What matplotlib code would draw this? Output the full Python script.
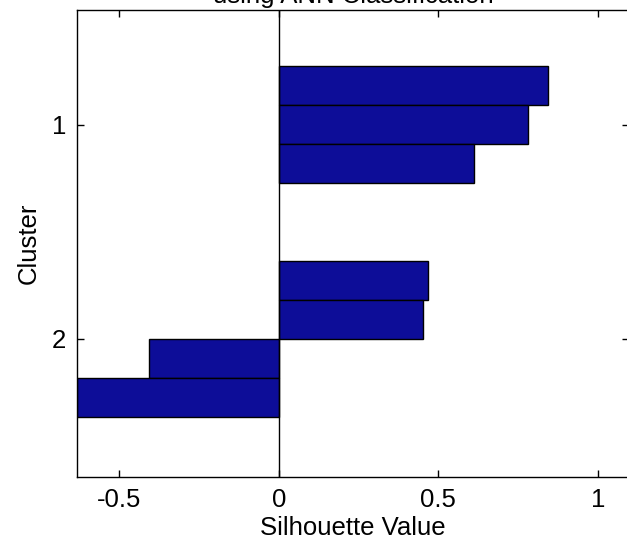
import numpy as np
import matplotlib
matplotlib.use("Agg")
import matplotlib.pyplot as plt

plt.rcParams["font.family"] = ["Liberation Sans", "DejaVu Sans"]

# silhouette values per point, sorted within each cluster
cluster_labels = ["1", "2"]
cluster1_values = [0.843, 0.781, 0.611]
cluster2_values = [0.467, 0.453, -0.408, -0.633]
gap = 2  # empty bar slots between clusters
x_ticks = [-0.5, 0, 0.5, 1]
x_tick_labels = ["-0.5", "0", "0.5", "1"]

FS = 18.5

fig = plt.figure(figsize=(6.27, 5.42), dpi=100)
ax = fig.add_axes([77 / 627, 65 / 542, 552 / 627, 467 / 542])

pos1 = np.arange(1, len(cluster1_values) + 1)
pos2 = np.arange(len(cluster1_values) + gap + 1,
                 len(cluster1_values) + gap + len(cluster2_values) + 1)

bar_color = "#0d0d98"
ax.barh(pos1, cluster1_values, height=1.0, color=bar_color,
        edgecolor="black", linewidth=1.0)
ax.barh(pos2, cluster2_values, height=1.0, color=bar_color,
        edgecolor="black", linewidth=1.0)
ax.axvline(0, color="black", linewidth=1.0, zorder=3)

ax.set_xlim(-0.633, 1.098)
ax.set_ylim(11.05, -0.94)
ax.set_xticks(x_ticks)
ax.set_xticklabels(x_tick_labels)
ax.set_yticks([pos1.mean(), pos2.mean()])
ax.set_yticklabels(cluster_labels)

ax.tick_params(direction="in", length=5, width=1, top=True, right=True,
               labelsize=FS, pad=8)
for s in ax.spines.values():
    s.set_linewidth(1.0)

ax.set_xlabel("Silhouette Value", fontsize=FS, labelpad=3)
ax.set_ylabel("Cluster", fontsize=FS, labelpad=8)

fig.text((77 + 629) / 2 / 627, 1 - 3 / 542, "using ANN Classification",
         ha="center", va="baseline", fontsize=FS)

fig.savefig("out.png", dpi=100)
plt.close(fig)
